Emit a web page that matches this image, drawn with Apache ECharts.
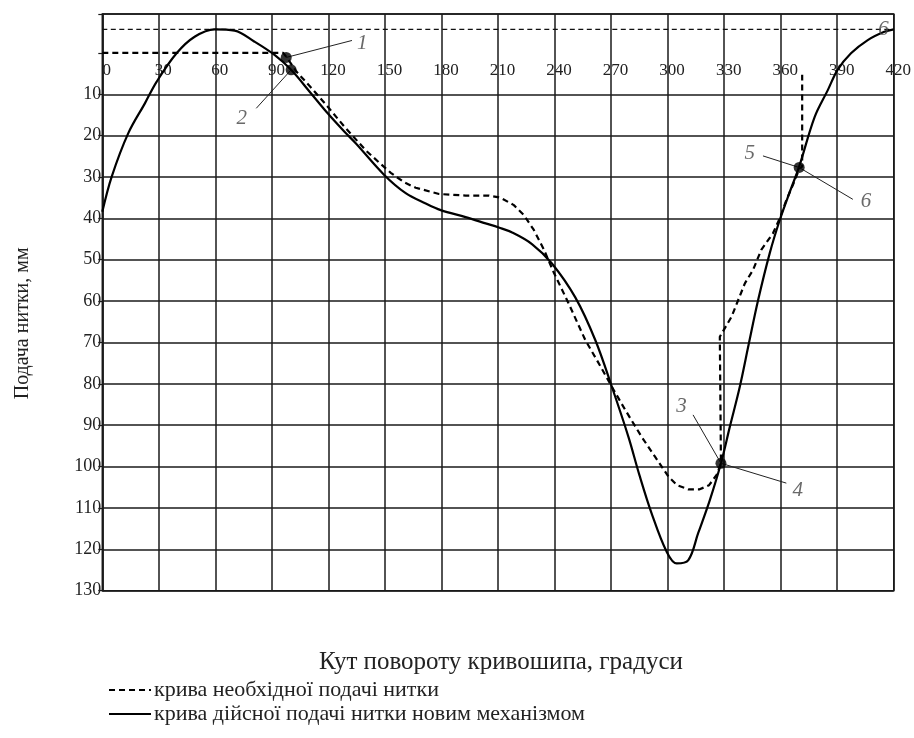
<!DOCTYPE html>
<html>
<head>
<meta charset="utf-8">
<script src="https://cdn.jsdelivr.net/npm/echarts@6/dist/echarts.min.js"></script>
<style>html,body{margin:0;padding:0;background:#fff}#c{width:914px;height:738px}</style>
</head>
<body>
<div id="c"></div>
<script>
// ---- data ----
const xTicks = [0,30,60,90,120,150,180,210,240,270,300,330,360,390,420];
const yTicks = [10,20,30,40,50,60,70,80,90,100,110,120,130];
const xTitle = 'Кут повороту кривошипа, градуси';
const yTitle = 'Подача нитки, мм';
const nameRequired = 'крива необхідної подачі нитки';
const nameActual = 'крива дійсної подачі нитки новим механізмом';

// required feed (dashed)
const requiredCurve = [
  [0,0],[96,0],[98,1.2],[103,4.5],[111.6,8.8],[120,13.2],[128.4,17.8],[139.9,23.6],[146.9,26.5],
  [153.1,29.0],[160.2,31.3],[166.3,32.6],[178.7,34.1],[192.8,34.5],[205.1,34.5],[211.3,35],
  [218.4,36.8],[223.7,39.2],[229,42.8],[234.3,47.5],[239.5,53],[247.4,60.5],[256.3,69.4],
  [263.4,75],[270.4,80.7],[277.5,86.3],[286.2,92.8],[293.3,97.6],[300.4,102.4],[305,104.5],
  [311,105.5],[317,105.5],[322,104.5],[326,102],[328.3,99.2],[327.7,68.6],[333.9,63.8],
  [341,55.7],[345.3,52.5],[349.7,47.6],[355.9,43.6],[359.5,40],[363,35.6],[366.5,31.9],
  [370,27.9],[371.4,27.5],[371.4,5.3]
];
// actual feed (solid)
const actualCurve = [
  [0,38.4],[5,29.9],[13.8,19.4],[22.6,12.2],[28.8,7.0],[39.4,0.1],[49,-3.9],[59.6,-5.7],
  [70.2,-5.4],[80.8,-2.7],[91.4,0.5],[100.2,4.1],[110.8,9.8],[119.6,14.6],[128.4,19.0],
  [134.6,21.9],[149.6,29.5],[161,33.9],[171.6,36.4],[179.6,38.0],[192.8,39.7],[203.4,41.2],
  [210.4,42.2],[217.5,43.4],[228,46.2],[238.6,50.9],[251,59.1],[261.6,69.4],[270.4,80.7],
  [279.2,92.8],[285,102],[291.5,111.3],[299.5,120.6],[304.8,123.4],[311,122.6],[316.2,116.1],
  [322.4,108.1],[328.3,99.2],[333,90.4],[338.3,80.7],[343,70.5],[348,59.8],[354.2,48.4],
  [359.5,40.4],[364.5,34],[369.8,27.5],[378,15.5],[385,9.0],[390.2,4.1],[397.3,0.1],
  [406.2,-3.1],[415,-5.1],[420,-5.7]
];
// upper reference dashed line
const topRefLine = [[0,-5.7],[420,-5.7]];
// marked points
const markedPoints = [[97.6,1.1],[100.2,4.1],[328.3,99.2],[369.8,27.7]];
// annotation labels
const annoNames = ['1','2','3','4','5','6','6'];
const annoPos = [[138,-2.3],[74,15.8],[307.4,85.5],[369.1,105.7],[343.6,24.3],[405.3,36],[414.5,-5.6]];
// leader lines: [from, to]
const leaders = [
  [[97.6,1.1],[132.5,-3.0]],
  [[100.2,4.1],[81.7,13.4]],
  [[328.3,99.2],[313.5,87.5]],
  [[328.3,99.2],[363,104]],
  [[369.8,27.7],[350.6,24.9]],
  [[369.8,27.7],[398.3,35.4]]
];

const serif = "'Liberation Serif','Times New Roman',serif";
const gridColor = '#1a1a1a';
const splitColors = yTicks.map(()=>gridColor);
splitColors.unshift(gridColor, 'rgba(0,0,0,0)'); // top edge, zero line hidden

const chart = echarts.init(document.getElementById('c'), null, {renderer:'canvas'});
chart.setOption({
  animation: false,
  backgroundColor: '#fff',
  grid: {left: 102.3, right: 17.3, top: 14, bottom: 147.3, show: true, borderColor: gridColor, borderWidth: 1.5, containLabel: false},
  title: {text: xTitle, left: 496, top: 645, textAlign: 'center',
    textStyle: {fontFamily: serif, fontSize: 25, fontWeight: 'normal', color: '#222'}},
  legend: {
    data: [nameRequired, nameActual], orient: 'vertical', left: 103, top: 674, itemGap: 2,
    itemWidth: 42, itemHeight: 14,
    itemStyle: {opacity: 0},
    textStyle: {fontFamily: serif, fontSize: 22, color: '#222', padding: [0,0,0,-2]}
  },
  xAxis: {
    type: 'value', min: 0, max: 420, interval: 30, position: 'bottom',
    offset: -537.8,
    axisLine: {show: false, onZero: false},
    axisTick: {show: false},
    axisLabel: {margin: 9, fontFamily: serif, fontSize: 17, color: '#222', padding: [0,0,0,9],
      formatter: v => xTicks.includes(v) ? String(v) : ''},
    splitLine: {show: true, lineStyle: {color: gridColor, width: 1.5}}
  },
  yAxis: {
    type: 'value', inverse: true, min: -9.4, max: 130, splitNumber: 14,
    name: yTitle, nameLocation: 'middle', nameGap: 70,
    nameTextStyle: {fontFamily: serif, fontSize: 20, color: '#222', padding: [0,42,0,0]},
    axisLine: {show: true, onZero: false, lineStyle: {color: gridColor, width: 1.5}},
    axisTick: {show: true, length: 4, lineStyle: {color: gridColor, width: 1.2}},
    axisLabel: {margin: 1, fontFamily: serif, fontSize: 18, color: '#222',
      formatter: v => yTicks.includes(Math.round(v*10)/10) ? String(v) : ''},
    splitLine: {show: true, lineStyle: {color: splitColors, width: 1.5}}
  },
  series: [
    {name: 'ref', type: 'line', data: topRefLine, symbol: 'none', silent: true,
      lineStyle: {color: '#111', width: 1.3, type: [5,3.5]}},
    {name: nameRequired, type: 'line', data: requiredCurve, symbol: 'none', smooth: false,
      lineStyle: {color: '#000', width: 2.2, type: [6,4]}, itemStyle: {color: '#000'}, z: 3},
    {name: nameActual, type: 'line', data: actualCurve, symbol: 'none', smooth: 0.35,
      lineStyle: {color: '#000', width: 2.2}, itemStyle: {color: '#000'}, z: 4,
      markLine: {silent: true, symbol: 'none', label: {show: false},
        lineStyle: {color: '#222', width: 1, type: 'solid'},
        data: leaders.map(l => [{coord: l[0]}, {coord: l[1]}])}},
    {name: 'points', type: 'scatter', data: markedPoints, symbol: 'circle', symbolSize: 11,
      itemStyle: {color: '#000'}, z: 6, silent: true},
    {name: 'labels', type: 'scatter', symbolSize: 0, silent: true, z: 7,
      data: annoNames.map((n,i) => ({name: n, value: annoPos[i]})),
      label: {show: true, position: 'inside', formatter: p => p.name,
        fontFamily: serif, fontStyle: 'italic', fontSize: 21, color: '#444'}}
  ]
});
</script>
</body>
</html>
